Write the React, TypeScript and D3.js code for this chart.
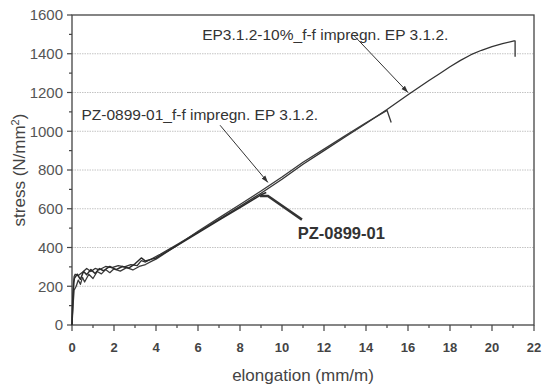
import React from "react";
import * as d3 from "d3";

type Pt = [number, number];

const xTicks = [0, 2, 4, 6, 8, 10, 12, 14, 16, 18, 20, 22];
const yTicks = [0, 200, 400, 600, 800, 1000, 1200, 1400, 1600];

// EP3.1.2-10%_f-f impregn. EP 3.1.2.
const seriesEP: Pt[] = [
  [0, 0], [0.05, 150], [0.1, 250], [0.15, 262], [0.3, 255], [0.5, 272], [0.7, 292], [0.9, 276],
  [1.1, 292], [1.3, 285], [1.6, 302], [1.9, 296], [2.2, 306], [2.5, 300], [2.8, 312], [3.1, 306],
  [3.3, 332], [3.5, 325], [3.8, 342], [4.2, 365], [5, 415], [6, 480], [7, 545], [8, 612],
  [9, 680], [10, 752], [11, 830], [12, 900], [13, 970], [14, 1040], [15, 1112], [16, 1188],
  [17, 1262], [17.5, 1297], [18, 1333], [18.5, 1366], [19, 1395], [19.5, 1418], [20, 1437],
  [20.5, 1452], [21.05, 1466], [21.1, 1466], [21.1, 1385],
];

// PZ-0899-01_f-f impregn. EP 3.1.2.
const seriesPZff: Pt[] = [
  [0, 0], [0.05, 100], [0.1, 180], [0.2, 200], [0.3, 232], [0.4, 210], [0.5, 246], [0.6, 222],
  [0.8, 262], [1.0, 240], [1.2, 276], [1.4, 264], [1.6, 286], [1.8, 270], [2.0, 290], [2.3, 278],
  [2.6, 296], [2.9, 284], [3.2, 302], [3.5, 312], [3.8, 330], [4, 340], [5, 410], [6, 484],
  [7, 553], [8, 622], [9, 692], [10, 764], [11, 840], [12, 908], [13, 976], [14, 1044],
  [15, 1108], [15.2, 1045],
];

// PZ-0899-01
const seriesPZ: Pt[] = [
  [0, 0], [0.03, 120], [0.08, 220], [0.12, 242], [0.25, 262], [0.4, 236], [0.55, 276], [0.7, 260],
  [0.9, 286], [1.1, 266], [1.3, 291], [1.5, 280], [1.8, 302], [2.1, 286], [2.4, 302], [2.7, 294],
  [3.0, 316], [3.3, 346], [3.5, 330], [3.8, 340], [4, 346], [5, 410], [6, 476], [7, 541],
  [8, 606], [9, 672], [9.25, 684],
];

// annotation anchor points (data units)
const arrowEP: Pt[] = [[13.4, 1497], [16.0, 1200]];
const arrowPZff: Pt[] = [[7.05, 1031], [9.33, 736]];
const leaderPZ: Pt[] = [[10.95, 544], [9.33, 666], [8.95, 666]];

const W = 544;
const H = 387;
const m = { left: 72, right: 10, top: 15, bottom: 62 };

export default function App() {
  const x = d3.scaleLinear().domain([0, 22]).range([m.left, W - m.right]);
  const y = d3.scaleLinear().domain([0, 1600]).range([H - m.bottom, m.top]);
  const line = d3.line<Pt>().x((d) => x(d[0])).y((d) => y(d[1]));
  const xMinor = d3.range(0, 23, 1);
  const yMinor = d3.range(0, 1601, 100);
  const axisColor = "#444";
  const font = "Liberation Sans, Arial, sans-serif";

  return (
    <svg
      width={W}
      height={H}
      style={{ position: "fixed", left: 0, top: 0, background: "#fff" }}
      fontFamily={font}
    >
      <defs>
        <marker id="ah" viewBox="0 0 10 10" refX="10" refY="5" markerWidth="7" markerHeight="7" orient="auto">
          <path d="M0,1.5 L10,5 L0,8.5 z" fill="#333" />
        </marker>
      </defs>
      {/* grid */}
      {yTicks.slice(1, -1).map((t) => (
        <line key={"g" + t} x1={x(0)} x2={x(22)} y1={y(t)} y2={y(t)} stroke="#c4c4c4" strokeWidth={1} strokeDasharray="1.5,1" />
      ))}
      {/* frame */}
      <rect x={x(0)} y={y(1600)} width={x(22) - x(0)} height={y(0) - y(1600)} fill="none" stroke={axisColor} strokeWidth={1.3} />
      {/* x ticks */}
      {xMinor.map((t) => (
        <line key={"xm" + t} x1={x(t)} x2={x(t)} y1={y(0)} y2={y(0) + (t % 2 === 0 ? 6 : 3)} stroke={axisColor} strokeWidth={1.2} />
      ))}
      {xTicks.map((t) => (
        <text key={"xl" + t} x={x(t)} y={y(0) + 27} textAnchor="middle" fontSize={13} fontWeight="bold" fill="#444">
          {t}
        </text>
      ))}
      {/* y ticks */}
      {yMinor.map((t) => (
        <line key={"ym" + t} x1={x(0)} x2={x(0) - (t % 200 === 0 ? 5 : 3)} y1={y(t)} y2={y(t)} stroke={axisColor} strokeWidth={1.2} />
      ))}
      {yTicks.map((t) => (
        <text key={"yl" + t} x={x(0) - 9} y={y(t)} dy="0.35em" textAnchor="end" fontSize={15} fill="#555">
          {t}
        </text>
      ))}
      {/* axis titles */}
      <text x={(x(0) + x(22)) / 2} y={y(0) + 56} textAnchor="middle" fontSize={17} fill="#444">
        elongation (mm/m)
      </text>
      <text transform={`translate(25,${(y(0) + y(1600)) / 2}) rotate(-90)`} textAnchor="middle" fontSize={17} fill="#444">
        stress (N/mm<tspan dy="-6" fontSize={11}>2</tspan><tspan dy="6">)</tspan>
      </text>
      {/* curves */}
      <path d={line(seriesEP) ?? ""} fill="none" stroke="#333" strokeWidth={1.3} strokeLinejoin="round" />
      <path d={line(seriesPZff) ?? ""} fill="none" stroke="#3a3a3a" strokeWidth={1.3} strokeLinejoin="round" />
      <path d={line(seriesPZ) ?? ""} fill="none" stroke="#2a2a2a" strokeWidth={1.5} strokeLinejoin="round" />
      {/* annotations */}
      <path d={line(arrowEP) ?? ""} stroke="#333" strokeWidth={1} fill="none" markerEnd="url(#ah)" />
      <path d={line(arrowPZff) ?? ""} stroke="#333" strokeWidth={1} fill="none" markerEnd="url(#ah)" />
      <path d={line(leaderPZ) ?? ""} stroke="#333" strokeWidth={2.6} fill="none" strokeLinejoin="miter" />
      <text x={x(6.2)} y={y(1498)} dy="0.35em" fontSize={15.5} fill="#333">
        EP3.1.2-10%_f-f impregn. EP 3.1.2.
      </text>
      <text x={x(0.45)} y={y(1086)} dy="0.35em" fontSize={15.5} fill="#333">
        PZ-0899-01_f-f impregn. EP 3.1.2.
      </text>
      <text x={x(10.75)} y={y(472)} dy="0.35em" fontSize={16.5} fontWeight="bold" fill="#333">
        PZ-0899-01
      </text>
    </svg>
  );
}
